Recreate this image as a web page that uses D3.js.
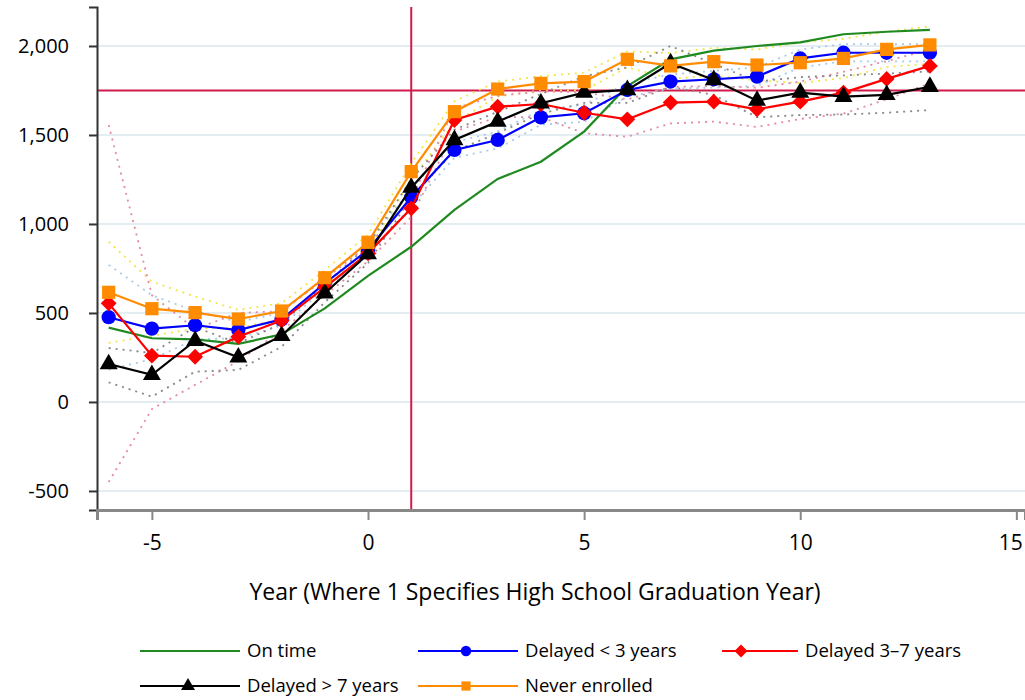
<!DOCTYPE html>
<meta charset="utf-8">
<script src="https://d3js.org/d3.v7.min.js"></script>
<style>
	body{
		margin:0;
		background:#fff;
		font-family: 'Open Sans', sans-serif;
	}
	.tick text{
		font-family: 'Open Sans', sans-serif;
		fill:#000;
	}
</style>
<div id="chart"></div>
<script>
// years relative to high school graduation
var years = [-6,-5,-4,-3,-2,-1,0,1,2,3,4,5,6,7,8,9,10,11,12,13]

var onTime    = [418,358,352,326,380,526,708,872,1079,1253,1350,1519,1775,1925,1974,2000,2020,2066,2080,2090]
var delayed3  = [476,412,431,404,464,667,854,1150,1416,1472,1599,1622,1753,1800,1813,1828,1930,1962,1962,1962]
var delayed37 = [554,260,254,367,457,644,835,1088,1584,1659,1674,1625,1588,1682,1687,1644,1687,1738,1815,1888]
var delayed7  = [213,152,344,251,371,611,831,1204,1472,1575,1678,1738,1753,1903,1809,1693,1738,1715,1725,1771]
var never     = [616,524,502,466,511,698,897,1294,1631,1758,1790,1800,1925,1888,1912,1893,1906,1930,1981,2006]

// confidence bands (dotted)
var neverHi = [900,676,592,517,555,740,940,1340,1690,1800,1830,1850,1970,1960,1990,1980,2020,2040,2080,2110]
var neverLo = [332,372,412,415,467,656,854,1248,1572,1716,1750,1750,1880,1816,1834,1806,1792,1820,1882,1900]
var d3Hi = [770,600,510,450,500,700,890,1200,1460,1520,1640,1670,1790,1840,1860,1880,1980,2010,2010,2010]
var d3Lo = [182,240,352,358,428,634,818,1100,1372,1424,1558,1574,1716,1760,1766,1776,1880,1914,1914,1914]
var d37Hi = [1556,600,410,500,510,690,880,1140,1650,1720,1745,1740,1700,1770,1775,1765,1800,1855,1915,1980]
var d37Lo = [-450,-40,96,230,400,600,790,1040,1520,1600,1600,1510,1490,1565,1575,1545,1590,1620,1700,1790]
var d7Hi = [303,275,420,330,440,660,880,1250,1530,1630,1730,1830,1880,2000,1900,1800,1825,1835,1845,1857]
var d7Lo = [110,30,170,180,310,560,780,1150,1410,1510,1620,1680,1680,1770,1725,1600,1612,1615,1625,1640]

var yTicks = [-500,0,500,1000,1500,2000]
var xTicks = [-5,0,5,10,15]
var gradYear = 1
var refEarnings = 1750

var series = [
	{name:"On time", vals:onTime, color:"#1f8a1f", marker:null},
	{name:"Delayed < 3 years", vals:delayed3, color:"#0000ff", marker:"circle"},
	{name:"Delayed 3\u20137 years", vals:delayed37, color:"#ff0000", marker:"diamond"},
	{name:"Delayed > 7 years", vals:delayed7, color:"#000000", marker:"triangle"},
	{name:"Never enrolled", vals:never, color:"#ff8c00", marker:"square"}
]
var bands = [
	{vals:[neverHi,neverLo], color:"#f2e54a"},
	{vals:[d3Hi,d3Lo], color:"#a9cbe8"},
	{vals:[d37Hi,d37Lo], color:"#e48aa6"},
	{vals:[d7Hi,d7Lo], color:"#888"}
]

var w = 1025, h = 700
var mLeft = 97, mRight = 1025, mTop = 7, mBottom = 510

var svg = d3.select("#chart").append("svg").attr("width",w).attr("height",h)

var x = d3.scaleLinear().domain([-6.27,15.2]).range([mLeft,mRight])
var y = d3.scaleLinear().domain([-607,2219]).range([mBottom,mTop])

// gridlines
svg.append("g").selectAll("line").data(yTicks).join("line")
	.attr("x1",mLeft).attr("x2",mRight)
	.attr("y1",d=>y(d)).attr("y2",d=>y(d))
	.attr("stroke","#e4eef2").attr("stroke-width",2)

// reference lines
svg.append("line").attr("x1",x(gradYear)).attr("x2",x(gradYear)).attr("y1",mTop).attr("y2",mBottom)
	.attr("stroke","#d01a4c").attr("stroke-width",2)
svg.append("line").attr("x1",mLeft).attr("x2",mRight).attr("y1",y(refEarnings)).attr("y2",y(refEarnings))
	.attr("stroke","#d01a4c").attr("stroke-width",2)

var line = d3.line().x((d,i)=>x(years[i])).y(d=>y(d))

// dotted bands
bands.forEach(function(b){
	b.vals.forEach(function(v){
		svg.append("path").attr("d",line(v))
			.attr("fill","none").attr("stroke",b.color)
			.attr("stroke-width",1.8).attr("stroke-dasharray","2,5")
	})
})

// diamond = square turned 45 degrees
var symbolTypes = {circle:d3.symbolCircle, diamond:d3.symbolSquare, triangle:d3.symbolTriangle, square:d3.symbolSquare}
var symbolSizes = {circle:160, diamond:125, triangle:140, square:175}
var symbolRot = {circle:0, diamond:45, triangle:0, square:0}

series.forEach(function(s){
	var g = svg.append("g")
	g.append("path").attr("d",line(s.vals))
		.attr("fill","none").attr("stroke",s.color).attr("stroke-width",2.2)
	if(s.marker){
		g.selectAll("path.m").data(s.vals).join("path").attr("class","m")
			.attr("d",d3.symbol().type(symbolTypes[s.marker]).size(symbolSizes[s.marker]))
			.attr("transform",(d,i)=>"translate("+x(years[i])+","+y(d)+") rotate("+symbolRot[s.marker]+")")
			.attr("fill",s.color)
	}
})

// axes
var fmt = d3.format(",")
var yAxis = svg.append("g").attr("transform","translate("+mLeft+",0)")
	.call(d3.axisLeft(y).tickValues(yTicks).tickSize(8).tickPadding(20)
		.tickFormat(d=>fmt(d).replace("\u2212","-")))
var xAxis = svg.append("g").attr("transform","translate(0,"+mBottom+")")
	.call(d3.axisBottom(x).tickValues(xTicks).tickSize(10).tickPadding(15)
		.tickFormat(d=>String(d)))
yAxis.select(".domain").attr("stroke","#333").attr("stroke-width",2)
xAxis.select(".domain").attr("stroke","#888").attr("stroke-width",3)
yAxis.selectAll(".tick line").attr("stroke","#333").attr("stroke-width",2)
xAxis.selectAll(".tick line").attr("stroke","#888").attr("stroke-width",2)
yAxis.selectAll(".tick text").style("font-size","20px")
xAxis.selectAll(".tick text").style("font-size","21px")
// last label sits on the right edge, nudge it in
xAxis.selectAll(".tick text").filter(d=>d==15).attr("dx",-6)

svg.append("text").text("Year (Where 1 Specifies High School Graduation Year)")
	.attr("x",535).attr("y",600).attr("text-anchor","middle")
	.style("font-size","23px")

// legend
var legendPos = [[140,651],[418,651],[722,651],[140,686],[418,686]]
series.forEach(function(s,i){
	var lx = legendPos[i][0], ly = legendPos[i][1]
	var lw = i==2 ? 76 : 100
	var lg = svg.append("g")
	lg.append("line").attr("x1",lx).attr("x2",lx+lw).attr("y1",ly).attr("y2",ly)
		.attr("stroke",s.color).attr("stroke-width",2)
	if(s.marker){
		var mx = i==2 ? lx+19 : lx+48
		lg.append("path").attr("d",d3.symbol().type(symbolTypes[s.marker]).size(85))
			.attr("transform","translate("+mx+","+ly+") rotate("+symbolRot[s.marker]+")").attr("fill",s.color)
	}
	lg.append("text").text(s.name).attr("x",lx+lw+7).attr("y",ly+6)
		.style("font-size","18.5px")
})
</script>
